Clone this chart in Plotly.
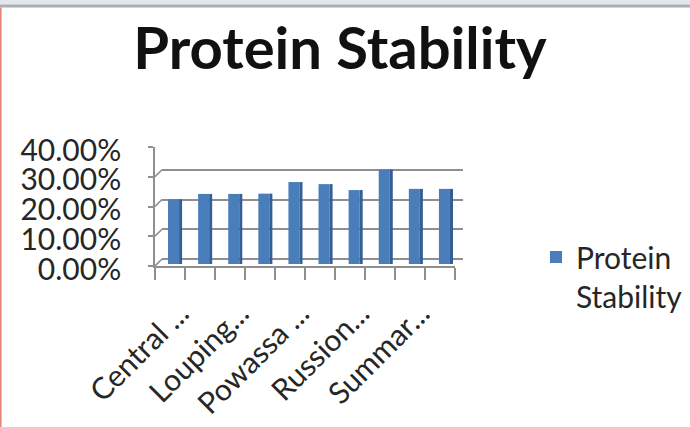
import plotly.graph_objects as go

# ---- data -------------------------------------------------------------
categories = [
    "Central ...", "Kyasanur...", "Louping...", "Omsk...", "Powassa ...",
    "Royal Farm...", "Russion...", "Siberian...", "Summar...", "Tick-borne...",
]
stability = [0.201, 0.219, 0.219, 0.220, 0.259, 0.252, 0.232, 0.301, 0.236, 0.236]
y_ticks = [0.0, 0.1, 0.2, 0.3, 0.4]
label_idx = [0, 2, 4, 6, 8]          # every other category gets a label

# ---- geometry / style -------------------------------------------------
W, H = 690, 427
DEPTH = 7                            # px offset between front plane and back wall
FLOOR = -0.0168                      # floor level (bars stand on it)
FRONT_C = "#4a7ebb"
SIDE_C = "#345f94"
GRID_C = "#8f8f8f"
TXT_C = "#262626"
FONT = "Lato"

def px_x(p):
    return p / W

def px_y(p):
    return 1 - p / H

idx = list(range(len(categories)))
side_len = [v - FLOOR for v in stability]

fig = go.Figure()

# front faces of the columns
fig.add_trace(go.Bar(
    x=idx, y=side_len, base=FLOOR,
    width=0.367, offset=-0.30,
    marker=dict(color=FRONT_C, line=dict(width=0)),
    name="Protein<br>Stability", showlegend=True,
    hoverinfo="skip",
))
# darker right-hand side faces
fig.add_trace(go.Bar(
    x=idx, y=side_len, base=FLOOR,
    width=0.10, offset=0.067,
    marker=dict(color=SIDE_C, line=dict(width=0)),
    showlegend=False, hoverinfo="skip",
))

shapes = []
line_style = dict(color=GRID_C, width=1.6)
# diagonal links from the front axis to the back-wall gridlines
for g in y_ticks:
    shapes.append(dict(
        type="line", xref="x2", yref="y2",
        xsizemode="pixel", xanchor=0, x0=0, x1=DEPTH,
        ysizemode="pixel", yanchor=g, y0=0, y1=DEPTH,
        line=line_style, layer="below",
    ))
# right-hand end of the floor
shapes.append(dict(
    type="line", xref="x2", yref="y2",
    xsizemode="pixel", xanchor=len(categories), x0=0, x1=DEPTH,
    ysizemode="pixel", yanchor=0, y0=0, y1=DEPTH,
    line=line_style, layer="below",
))

# window frame around the chart
shapes += [
    dict(type="rect", xref="paper", yref="paper", x0=0, x1=1,
         y0=px_y(4.5), y1=1, fillcolor="#e3e7ed", line=dict(width=0)),
    dict(type="rect", xref="paper", yref="paper", x0=0, x1=1,
         y0=px_y(7.5), y1=px_y(4.5), fillcolor="#a9adb4", line=dict(width=0)),
    dict(type="rect", xref="paper", yref="paper", x0=0, x1=px_x(1.6),
         y0=0, y1=px_y(7.5), fillcolor="#e8847e", line=dict(width=0)),
]

fig.update_layout(
    width=W, height=H,
    margin=dict(l=0, r=0, t=0, b=0, autoexpand=False),
    paper_bgcolor="white", plot_bgcolor="rgba(0,0,0,0)",
    barmode="overlay",
    font=dict(family=FONT, color=TXT_C, size=28),
    title=dict(
        text="<b>Protein Stability</b>",
        x=px_x(340), xanchor="center",
        y=px_y(49), yanchor="middle",
        font=dict(family=FONT, size=58, color="#111111"),
    ),
    # back wall: bars and gridlines
    xaxis=dict(
        domain=[px_x(162), px_x(463)],
        range=[-0.5, len(categories) - 0.5],
        tickmode="array",
        tickvals=label_idx,
        ticktext=[categories[i] for i in label_idx],
        tickangle=-45,
        ticks="", showline=False, showgrid=False, zeroline=False,
        ticklabelshift=3, ticklabelstandoff=25,
        tickfont=dict(size=30, color=TXT_C),
        automargin=False,
        anchor="y",
    ),
    yaxis=dict(
        domain=[px_y(264), px_y(140)],
        range=[FLOOR, 0.4005],
        tickmode="array", tickvals=y_ticks,
        showticklabels=False, ticks="",
        showgrid=True, gridcolor=GRID_C, gridwidth=1.6,
        zeroline=False, showline=False,
        automargin=False,
        anchor="x",
    ),
    # front plane: value axis with labels and the floor edge with ticks
    xaxis2=dict(
        domain=[px_x(155), px_x(455)],
        range=[0, len(categories)],
        tick0=0, dtick=1, ticks="outside", ticklen=12, tickwidth=1.6,
        tickcolor=GRID_C,
        showline=True, linecolor=GRID_C, linewidth=1.6,
        showticklabels=False, showgrid=False, zeroline=False,
        automargin=False,
        anchor="y2",
    ),
    yaxis2=dict(
        domain=[px_y(266), px_y(147)],
        range=[0, 0.4],
        tickmode="array", tickvals=y_ticks,
        tickformat=".2%",
        ticks="outside", ticklen=5, tickwidth=1.6, tickcolor=GRID_C,
        showline=True, linecolor=GRID_C, linewidth=1.6,
        showgrid=False, zeroline=False,
        ticklabelshift=3, ticklabelstandoff=21,
        tickfont=dict(size=30, color=TXT_C),
        automargin=False,
        anchor="x2",
    ),
    legend=dict(
        x=px_x(536), xanchor="left",
        y=px_y(231), yanchor="top",
        valign="top",
        font=dict(size=30, color=TXT_C),
        bgcolor="rgba(0,0,0,0)",
        tracegroupgap=0,
    ),
    shapes=shapes,
    showlegend=True,
)

fig.write_html("out.html")
